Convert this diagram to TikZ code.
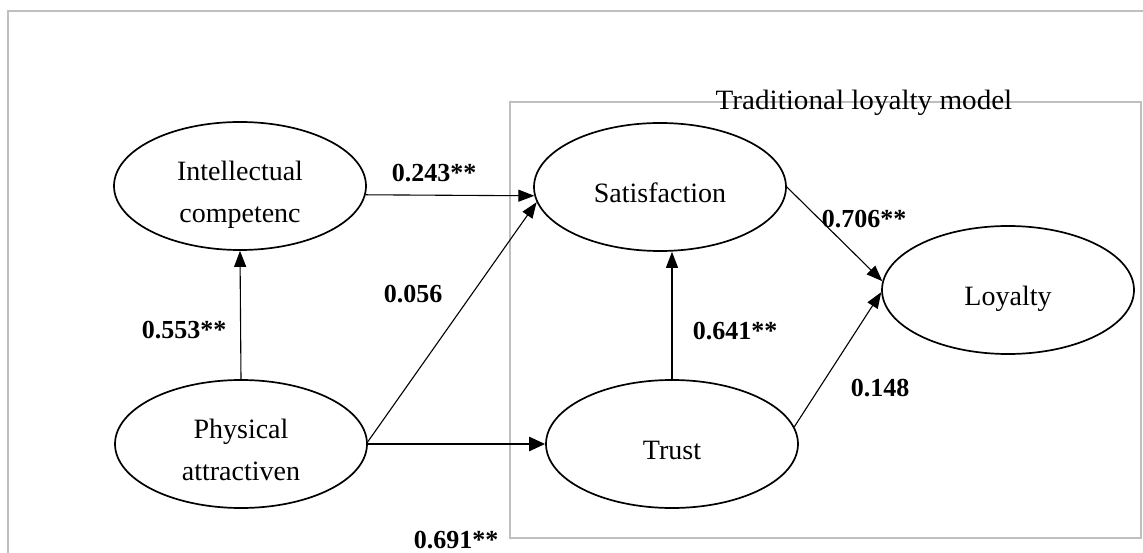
\documentclass[tikz,border=0pt]{standalone}
\usepackage{fontspec}
\setmainfont{Liberation Serif}
\newfontfamily\nodefont{Liberation Serif}
\newfontfamily\titlefont{Liberation Serif}[FakeStretch=1.04]
\usetikzlibrary{shapes.geometric,arrows.meta}
\newcommand{\lowertext}[1]{\raisebox{-7pt}[\height][\depth]{\begin{tabular}{@{}c@{}}#1\end{tabular}}}
\begin{document}
\begin{tikzpicture}[x=1pt,y=-1pt,
  latent/.style={ellipse,draw,line width=1.7pt,minimum width=252pt,minimum height=128pt,inner sep=0pt,font=\nodefont\fontsize{28}{42}\selectfont},
  pathar/.style={line width=1.1pt,-{Triangle[length=16pt,width=12pt]}},
  thickar/.style={line width=2.6pt,-{Triangle[length=16pt,width=14pt]}},
  coef/.style={font=\bfseries\fontsize{26}{30}\selectfont},
  framebox/.style={draw=black!25,line width=1.2pt}]
\useasboundingbox (0,0) rectangle (1143,553);
\fill[white] (0,0) rectangle (1143,553);
% outer frame
\draw[framebox] (8,560) -- (8,11) -- (1150,11);
% inner box
\draw[framebox] (510,102) rectangle (1141,538);
\node[font=\titlefont\fontsize{28}{32}\selectfont,anchor=base] (title) at (864,110) {Traditional loyalty model};
% latent variables
\node[latent] (int) at (240,186) {\lowertext{Intellectual\\competenc}};
\node[latent] (sat) at (660,187) {\lowertext{Satisfaction}};
\node[latent] (loy) at (1008,290) {\lowertext{Loyalty}};
\node[latent] (phy) at (241,444) {\lowertext{Physical\\attractiven}};
\node[latent] (tru) at (672,444) {\lowertext{Trust}};
% paths
\draw[pathar] (int.-4) -- (sat.184);
\draw[pathar] (phy.1) -- (sat.187);
\draw[thickar] (phy.0) -- (tru.180);
\draw[pathar] (phy.north) -- (int.south);
\draw[pathar] (tru.north) -- (tru.north |- sat.south);
\draw[pathar] (sat.0) -- (loy.176);
\draw[pathar] (tru.8) -- (loy.181);
% coefficients
\node[coef] (c1) at (434,173) {0.243**};
\node[coef] (c2) at (413,294) {0.056};
\node[coef] (c3) at (184,330) {0.553**};
\node[coef] (c4) at (735,331) {0.641**};
\node[coef] (c5) at (864,219) {0.706**};
\node[coef] (c6) at (880,388) {0.148};
\node[coef] (c7) at (456,540) {0.691**};
\end{tikzpicture}
\end{document}
